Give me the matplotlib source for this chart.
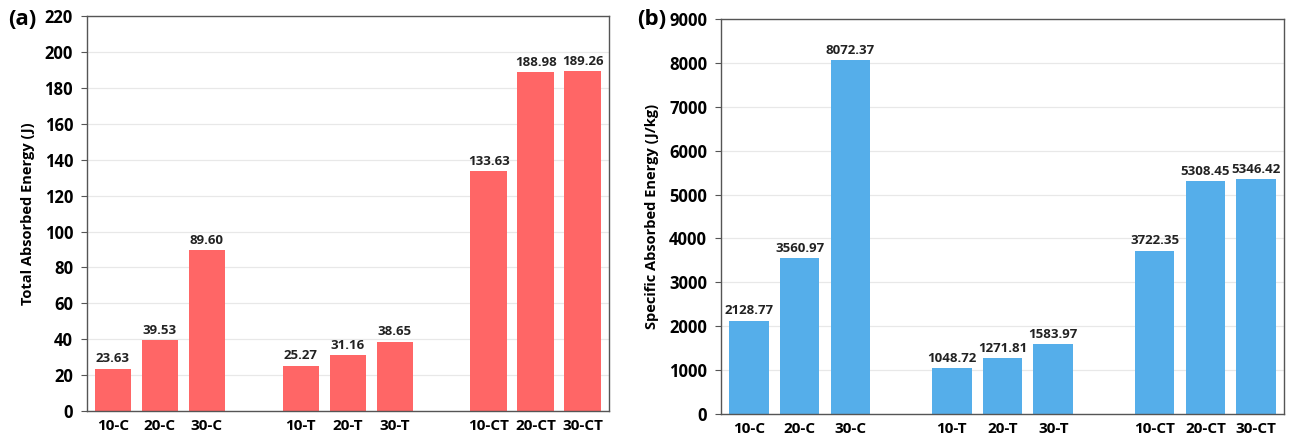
import numpy as np
import matplotlib
matplotlib.use('Agg')
import matplotlib.pyplot as plt

plt.rcParams['font.family'] = ['Open Sans', 'DejaVu Sans']
plt.rcParams['font.weight'] = 'bold'

labels = ['10-C', '20-C', '30-C', '10-T', '20-T', '30-T', '10-CT', '20-CT', '30-CT']
total_energy = [23.63, 39.53, 89.60, 25.27, 31.16, 38.65, 133.63, 188.98, 189.26]
specific_energy = [2128.77, 3560.97, 8072.37, 1048.72, 1271.81, 1583.97, 3722.35, 5308.45, 5346.42]

# slots with an empty slot between the groups
pos = np.array([0, 1, 2, 4, 5, 6, 8, 9, 10])

fig = plt.figure(figsize=(12.95, 4.37), dpi=100)
ax1 = fig.add_axes([0.0672, 0.0595, 0.4028, 0.9035])
ax2 = fig.add_axes([0.5568, 0.0526, 0.4347, 0.904])


def draw(ax, vals, color, ymax, step, ylabel, tag, tag_x):
    ax.set_axisbelow(True)
    ax.yaxis.grid(True, color='#e8e8e8', lw=0.9)
    ax.bar(pos, vals, width=0.78, color=color)
    for x, v in zip(pos, vals):
        ax.text(x, v + ymax * 0.008, '%.2f' % v, ha='center', va='bottom',
                fontsize=9.5, fontweight='bold', color='#222222')
    ax.set_xlim(-0.55, 10.55)
    ax.set_ylim(0, ymax)
    ax.set_yticks(np.arange(0, ymax + 1, step))
    ax.set_xticks(pos)
    ax.set_xticklabels(labels)
    ax.tick_params(axis='x', length=0, pad=6, labelsize=11)
    ax.tick_params(axis='y', length=4, pad=6, labelsize=12, color='#555555')
    for lab in ax.get_xticklabels() + ax.get_yticklabels():
        lab.set_fontweight('bold')
    for s in ax.spines.values():
        s.set_color('#555555')
        s.set_linewidth(1.0)
    ax.set_ylabel(ylabel, fontsize=10.5, fontweight='bold', labelpad=7)
    fig.text(tag_x, 0.955, tag, fontsize=16, fontweight='bold', ha='left', va='center')


draw(ax1, total_energy, '#ff6666', 220, 20, 'Total Absorbed Energy (J)', '(a)', 0.006)
draw(ax2, specific_energy, '#55aeea', 9000, 1000, 'Specific Absorbed Energy (J/kg)', '(b)', 0.492)

fig.savefig('out.png', dpi=100)
